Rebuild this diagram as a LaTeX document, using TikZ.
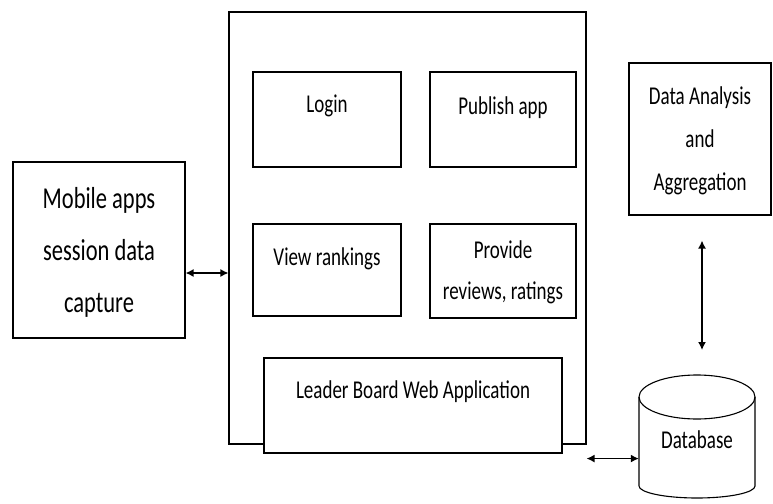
\documentclass[tikz,border=0pt]{standalone}
\usepackage{graphicx}
\usepackage{fontspec}
\setmainfont{Carlito}
\usetikzlibrary{positioning,arrows.meta}

% stretched, centred lines of text
\newcommand{\tallstack}[2][1.35]{\scalebox{1}[#1]{\begin{tabular}{@{}c@{}}#2\end{tabular}}}

\tikzset{
  box/.style={draw, line width=1.1pt, fill=white, inner sep=0pt},
  txt/.style={font=\fontsize{19}{32}\selectfont, inner sep=0pt},
  bigtxt/.style={font=\fontsize{22.5}{38.5}\selectfont, inner sep=0pt},
  both/.style={{Latex[length=8pt,width=8pt]}-{Latex[length=8pt,width=8pt]}, line width=1.4pt}
}

\begin{document}
\begin{tikzpicture}[x=1pt,y=-1pt]
\useasboundingbox (0,0) rectangle (773,503);
% web application frame
\node[box, minimum width=357pt, minimum height=432pt] (main) at (407.5,228) {};
\node[box, minimum width=148pt, minimum height=95pt] (login) at (327,119.5) {};
\node[box, minimum width=146pt, minimum height=95pt] (publish) at (503,119.5) {};
\node[box, minimum width=148pt, minimum height=92pt] (view) at (327,270) {};
\node[box, minimum width=146pt, minimum height=94pt, txt, font=\fontsize{19}{30}\selectfont] (provide) at (503,271) {\tallstack{Provide\\reviews, ratings}};
\node[box, minimum width=298pt, minimum height=95pt] (leader) at (413,405.5) {};
\node[txt] (logintxt) at ([yshift=-32pt]login.north) {\tallstack{Login}};
\node[txt] (publishtxt) at ([yshift=-34pt]publish.north) {\tallstack{Publish app}};
\node[txt] (viewtxt) at ([yshift=-33pt]view.north) {\tallstack{View rankings}};
\node[txt] (leadertxt) at ([yshift=-32pt]leader.north) {\tallstack{Leader Board Web Application}};
% outside
\node[box, minimum width=172pt, minimum height=176pt, bigtxt] (mobile) at (99,250) {\tallstack{Mobile apps\\session data\\capture}};
\node[box, minimum width=142pt, minimum height=152pt, txt] (analysis) at (700,139) {\tallstack{Data Analysis\\and\\Aggregation}};
% database cylinder
\draw[line width=1.1pt] (639,397) -- (639,486) arc[start angle=180, end angle=0, x radius=58, y radius=12] -- (755,397);
\draw[line width=1.1pt] (697,397) ellipse[x radius=58, y radius=22];
\node[txt, minimum width=116pt] (db) at (697,440) {\tallstack{Database}};
\coordinate (dbtop) at (697,375);
% connectors
\draw[both] ([yshift=-23pt]mobile.east) -- ([yshift=-23pt]mobile.east -| main.west);
\draw[both] ([yshift=-14pt]main.south east) -- ([yshift=-14pt]main.south east -| db.west);
\draw[both, shorten <=25pt, shorten >=25pt] ([xshift=2pt]analysis.south) -- ([xshift=2pt]analysis.south |- dbtop);
\end{tikzpicture}
\end{document}
